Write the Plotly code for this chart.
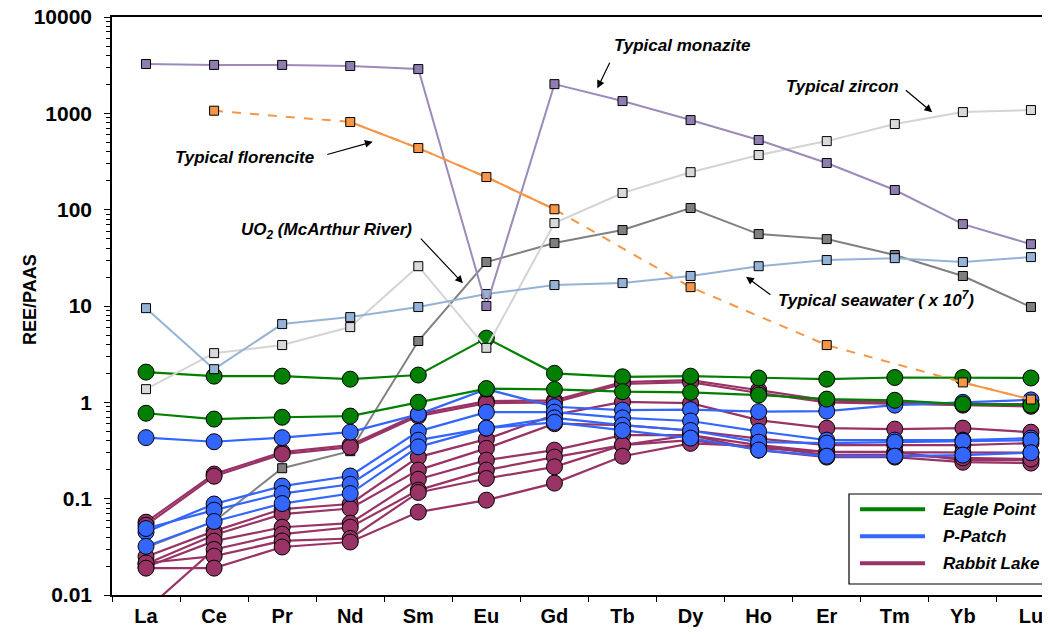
import plotly.graph_objects as go

elements = ["La", "Ce", "Pr", "Nd", "Sm", "Eu", "Gd", "Tb", "Dy", "Ho", "Er", "Tm", "Yb", "Lu"]

# Reference compositions (squares)
monazite   = [3250, 3180, 3180, 3100, 2880, 10.0, 2010, 1340, 851, 528, 305, 160, 70.8, 43.8]
florencite = [None, 1065, None, 813, 436, 218, 101, None, 15.7, None, 3.93, None, 1.61, 1.07]
zircon     = [1.37, 3.24, 3.93, 6.04, 25.9, 3.68, 72.6, 149, 245, 369, 515, 774, 1030, 1082]
uo2        = [0.031, 0.058, 0.207, 0.311, 4.33, 28.6, 45, 61.4, 104, 55.8, 49.5, 33.8, 20.5, 9.75]
seawater   = [9.5, 2.21, 6.49, 7.67, 9.75, 13.3, 16.5, 17.3, 20.5, 25.9, 30, 31.4, 28.6, 32.2]

# Eagle Point samples
ep1 = [2.06, 1.87, 1.87, 1.74, 1.92, 4.64, 2.0, 1.84, 1.87, 1.79, 1.74, 1.81, 1.81, 1.79]
ep2 = [0.77, 0.67, 0.70, 0.72, 1.0, 1.39, 1.36, 1.29, 1.27, 1.19, 1.08, 1.05, 0.96, 0.935]

# P-Patch samples
pp1 = [0.43, 0.39, 0.43, 0.49, 0.75, 1.37, 0.90, 0.83, 0.84, 0.80, 0.81, 0.935, 1.0, 1.06]
pp2 = [0.045, 0.088, 0.135, 0.172, 0.50, 0.79, 0.79, 0.69, 0.64, 0.50, 0.405, 0.405, 0.405, 0.425]
pp3 = [0.049, 0.076, 0.113, 0.141, 0.405, 0.54, 0.69, 0.58, 0.51, 0.386, 0.377, 0.386, 0.395, 0.405]
pp4 = [0.032, 0.058, 0.089, 0.113, 0.345, 0.54, 0.62, 0.51, 0.425, 0.32, 0.276, 0.276, 0.283, 0.30]

# Rabbit Lake samples
rl1 = [0.057, 0.18, 0.304, 0.36, 0.754, 1.03, 1.05, 1.62, 1.70, 1.34, 1.05, 1.0, 0.96, 0.96]
rl2 = [0.053, 0.171, 0.29, 0.343, 0.72, 0.98, 1.0, 1.55, 1.62, 1.25, 1.0, 0.96, 0.935, 0.91]
rl3 = [0.025, 0.046, 0.078, 0.088, 0.27, 0.415, 0.74, 1.01, 0.98, 0.653, 0.54, 0.527, 0.54, 0.49]
rl4 = [0.021, 0.042, 0.069, 0.079, 0.198, 0.333, 0.60, 0.58, 0.51, 0.42, 0.36, 0.36, 0.36, 0.377]
rl5 = [0.0195, 0.0362, 0.0505, 0.0557, 0.159, 0.251, 0.319, 0.456, 0.456, 0.36, 0.304, 0.304, 0.304, 0.30]
rl6 = [0.007, 0.0297, 0.0428, 0.0505, 0.1226, 0.198, 0.27, 0.36, 0.405, 0.333, 0.306, 0.306, 0.251, 0.251]
rl7 = [0.0215, 0.0253, 0.0364, 0.0386, 0.116, 0.162, 0.214, 0.36, 0.456, 0.319, 0.27, 0.27, 0.239, 0.234]
rl8 = [0.019, 0.019, 0.0315, 0.0355, 0.0726, 0.0965, 0.145, 0.276, 0.375, 0.35, 0.283, 0.283, 0.265, 0.258]

y_tickvals = [0.01, 0.1, 1, 10, 100, 1000, 10000]
y_ticktext = ["0.01", "0.1", "1", "10", "100", "1000", "10000"]

legend_names = ["Eagle Point", "P-Patch", "Rabbit Lake"]

GREEN = "#008000"
BLUE = "#3366FF"
MAGENTA = "#993366"
legend_colors = [GREEN, BLUE, MAGENTA]

FONT = "Liberation Sans, Arial, sans-serif"

# The page body has an 8 px margin; the figure is sized so that its plot area
# lands where the reference's plot area is inside the 1050x636 window.
BODY = 8
WIN_W, WIN_H = 1050, 636
PLOT_L, PLOT_R, PLOT_T, PLOT_B = 112, 1050, 17, 595   # window pixels

fig = go.Figure()


def square_trace(vals, fill, line_color, dash="solid", width=2, gaps=False, markers=True):
    return go.Scatter(
        x=elements, y=vals,
        mode="lines+markers" if markers else "lines",
        connectgaps=gaps,
        line=dict(color=line_color, width=width, dash=dash),
        marker=dict(symbol="square", size=9, color=fill, line=dict(color="#000000", width=1)),
        showlegend=False, hoverinfo="skip",
    )


def circle_trace(vals, color):
    return go.Scatter(
        x=elements, y=vals, mode="lines+markers",
        line=dict(color=color, width=2.2),
        marker=dict(symbol="circle", size=16, color=color, line=dict(color="#000000", width=1)),
        showlegend=False, hoverinfo="skip",
    )


fig.add_trace(square_trace(uo2, "#7f7f7f", "#808080"))

for s in [rl1, rl2, rl3, rl4, rl5, rl6, rl7, rl8]:
    fig.add_trace(circle_trace(s, MAGENTA))
for s in [pp1, pp2, pp3, pp4]:
    fig.add_trace(circle_trace(s, BLUE))
for s in [ep1, ep2]:
    fig.add_trace(circle_trace(s, GREEN))

fig.add_trace(square_trace(zircon, "#d9d9d9", "#d4d4d4"))
fig.add_trace(square_trace(seawater, "#95b3d7", "#95b3d7"))
fig.add_trace(square_trace(monazite, "#8f7db0", "#9c8bba"))
fig.add_trace(square_trace(florencite, "#f79646", "#f79646", dash="dash", gaps=True, markers=False))
fig.add_trace(square_trace(florencite, "#f79646", "#f79646"))

# ---- annotations with arrows (text anchored at the arrow tail) ----
annos = [
    ("<b><i>Typical monazite</i></b>", 6.63, 3.26, 15, -31, "left", "bottom", 6),
    ("<b><i>Typical zircon</i></b>", 11.55, 3.01, -31, -26, "right", "middle", 6),
    ("<b><i>Typical florencite</i></b>", 3.33, 2.705, -57, 16, "right", "middle", 12),
    ("<b><i>UO<sub>2</sub> (McArthur River)</i></b>", 4.656, 1.235, -49, -52, "right", "middle", 10),
    ("<b><i>Typical seawater ( x 10<sup>7</sup>)</i></b>", 8.815, 1.303, 30, 22, "left", "middle", 7),
]
for text, xi, yl, ax, ay, xa, ya, sso in annos:
    fig.add_annotation(x=xi, y=yl, xref="x", yref="y", text=text, showarrow=True,
                       ax=ax, ay=ay, xanchor=xa, yanchor=ya, startstandoff=sso,
                       arrowhead=2, arrowsize=1.3, arrowwidth=1.2, arrowcolor="#000000",
                       font=dict(family=FONT, size=17, color="#000000"))


def px_x(p):
    return (p - PLOT_L) / (PLOT_R - PLOT_L)


def px_y(p):
    return (PLOT_B - p) / (PLOT_B - PLOT_T)


# ---- y axis title ----
fig.add_annotation(x=px_x(30), y=px_y(300), xref="paper", yref="paper",
                   text="<b>REE/PAAS</b>", textangle=-90, showarrow=False,
                   xanchor="center", yanchor="middle",
                   font=dict(family=FONT, size=18, color="#000000"))

# ---- legend box ----
fig.add_shape(type="rect", xref="paper", yref="paper",
              x0=px_x(849), x1=px_x(1060), y0=px_y(584), y1=px_y(494),
              line=dict(color="#000000", width=1.2), fillcolor="white", layer="above")
for i, (name, col) in enumerate(zip(legend_names, legend_colors)):
    yy = 509.3 + i * 27
    fig.add_shape(type="line", xref="paper", yref="paper",
                  x0=px_x(860), x1=px_x(925), y0=px_y(yy), y1=px_y(yy),
                  line=dict(color=col, width=4), layer="above")
    fig.add_annotation(x=px_x(941), y=px_y(yy), xref="paper", yref="paper",
                       text="<b><i>" + name + "</i></b>", showarrow=False,
                       xanchor="left", yanchor="middle",
                       font=dict(family=FONT, size=17, color="#000000"))

fig_w = WIN_W - BODY
fig_h = WIN_H - BODY
fig.update_layout(
    width=fig_w, height=fig_h,
    margin=dict(l=PLOT_L - BODY, r=fig_w - (PLOT_R - BODY), t=PLOT_T - BODY, b=fig_h - (PLOT_B - BODY)),
    paper_bgcolor="white", plot_bgcolor="white",
    font=dict(family=FONT, color="#000000"),
    showlegend=False,
)

fig.update_xaxes(
    type="category", range=[-0.5, 13.28], automargin=False,
    showline=True, linecolor="#000000", linewidth=1.5, mirror=True,
    ticks="outside", tickson="boundaries", ticklen=5, tickcolor="#000000",
    showgrid=False, zeroline=False, ticklabeloverflow="allow",
    tickfont=dict(family=FONT, size=20, color="#000000"),
    tickprefix="<b>", ticksuffix="</b>", ticklabelstandoff=2,
)
fig.update_yaxes(
    type="log", range=[-2, 4], automargin=False,
    tickvals=y_tickvals, ticktext=["<b>" + t + "</b>" for t in y_ticktext],
    showline=True, linecolor="#000000", linewidth=1.5, mirror=False,
    ticks="outside", ticklen=6, tickcolor="#000000", ticklabelstandoff=8,
    ticklabeloverflow="allow",
    minor=dict(ticks="outside", ticklen=4, dtick="D1", tickcolor="#000000", showgrid=False),
    showgrid=False, zeroline=False,
    tickfont=dict(family=FONT, size=21, color="#000000"),
)

fig.write_html("out.html")
